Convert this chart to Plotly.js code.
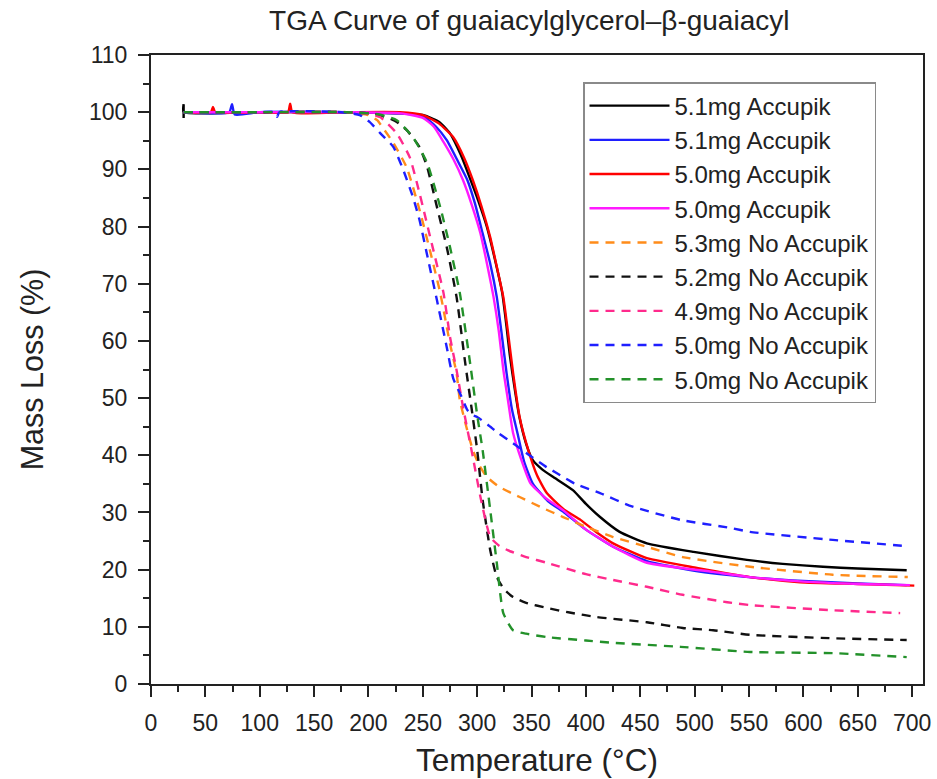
<!DOCTYPE html>
<html>
<head>
<meta charset="utf-8">
<script src="https://cdn.plot.ly/plotly-3.0.1.min.js"></script>
<style>html,body{margin:0;padding:0;background:#fff;}#chart{width:937px;height:779px;}</style>
</head>
<body>
<div id="chart"></div>
<script>
// Legend labels
const names = ['5.1mg Accupik','5.1mg Accupik','5.0mg Accupik','5.0mg Accupik',
  '5.3mg No Accupik','5.2mg No Accupik','4.9mg No Accupik','5.0mg No Accupik','5.0mg No Accupik'];

// Series 1: 5.1mg Accupik (black, solid)
const t1 = [30,30,30,100,180,230,250,265,275,285,293,301,309,316,323,327,330,335,339,345,351,360,370,388,400,413,431,456,499,548,581,618,650,695];
const m1 = [99,101.4,100,100,100,99.8,99.5,98.3,96.3,92.5,88.6,84.5,79.9,74.5,68.4,62.5,57.5,51,46.5,42,39.2,37.5,36.2,33.9,31.5,29.2,26.6,24.6,23.1,21.7,21,20.5,20.2,19.9];
// Series 2: 5.1mg Accupik (blue, solid)
const t2 = [30,72,74.5,77,100,180,230,250,262,272,282,291,298,305,312,318,322,327,332,337,343,351,365,380,400,425,456,500,550,600,650,695];
const m2 = [100,100,101.4,99.6,100,100,99.8,99.3,97.5,95.1,91.5,88.1,84,78.8,73.5,67.7,62,54.4,48,43.9,39,35.1,32,30,27,24,21.5,19.8,18.7,18,17.6,17.3];
// Series 3: 5.0mg Accupik (red, solid)
const t3 = [30,55,57,59,100,126,128,130,180,229,250,265,278,288,296,304,312,318,324,328,333,339,347,355,364,380,395,410,425,456,502,551,597,650,702];
const m3 = [100,100,100.9,100,100,100,101.5,100,100,100,99.5,98,95.6,92,88.1,83.5,78.1,73,67.7,62,54.4,46.7,40.9,36.5,33.4,30.5,28.7,26.5,24.6,22,20.3,18.7,17.8,17.5,17.2];
// Series 4: 5.0mg Accupik (magenta, solid)
const t4 = [30,100,180,230,250,260,269,278,287,295,303,309,315,320,324,328,333,341,349,363,379,400,425,456,517,551,600,650,698];
const m4 = [100,100,100,99.8,99,97.5,94.8,91.8,88.1,83.8,78.8,73.5,67.7,61.5,55,50,43.9,39,35.1,32.5,30.4,27,24,21.2,19.6,18.7,17.9,17.5,17.3];
// Series 5: 5.3mg No Accupik (orange, dashed)
const t5 = [30,100,180,200,208,215,223,235,247,258,266,275,281,284,290,296,302,309,320,339,360,379,400,425,456,489,551,627,696];
const m5 = [100,100,100,99.5,98.6,96.8,94.6,90.4,82.9,74.7,68.4,59.5,54.4,49.7,45,40.9,38.2,36.2,34.5,32.7,30.8,29.2,27.5,25.7,24,22.2,20.5,19.1,18.7];
// Series 6: 5.2mg No Accupik (black, dashed)
const t6 = [30,100,180,205,217,226,235,247,254,263,272,281,289,295,300,305,312,318,325,333,345,364,385,410,456,489,517,551,627,695];
const m6 = [100,100,100,99.7,99.1,98.3,96.9,93.9,90.4,83.4,76.4,67.7,56.1,48,40.9,32.2,23.4,18.7,16.5,15.2,14.2,13.3,12.5,11.7,10.8,9.8,9.4,8.6,8,7.7];
// Series 7: 4.9mg No Accupik (pink, dashed)
const t7 = [30,100,180,200,211,226,238,247,259,269,275,281,287,296,303,312,320,328,345,364,400,425,456,489,530,551,627,689];
const m7 = [100,100,100,99.7,99.1,96.3,92.1,85.8,76.4,68.4,60.7,54.9,48.4,39.7,32.7,25.7,24.2,23.4,22.2,21.2,19.2,18.2,17,15.6,14.3,13.8,12.9,12.4];
// Series 8: 5.0mg No Accupik (blue, dashed)
const t8 = [30,100,114,116,118,175,192,201,211,223,232,241,247,255,263,272,278,285,291,296,300,310,320,333,348,364,373,390,413,440,487,533,551,627,696];
const m8 = [100,100,100,99.2,100,100,99.5,98.3,96.3,93.9,89.9,85.1,81.1,74.1,67.1,58.9,53.4,50.5,47.9,47,46.7,45.3,43.8,42.1,40,37.9,36.9,35,33.4,31.2,28.7,27.3,26.6,25.2,24.1];
// Series 9: 5.0mg No Accupik (green, dashed)
const t9 = [30,100,180,210,226,241,254,266,275,284,294,300,305,312,318,324,333,345,364,400,425,487,551,627,695];
const m9 = [100,100,100,99.6,98.6,95.6,91.1,83.4,76.4,68.4,55.4,47,40.9,30.4,21.2,12.4,9.4,8.8,8.2,7.6,7.2,6.5,5.6,5.4,4.7];

const xs = [t1,t2,t3,t4,t5,t6,t7,t8,t9];
const ys = [m1,m2,m3,m4,m5,m6,m7,m8,m9];
const colors = ['#000000','#1f1fff','#ff0000','#ff1aff','#ff8c1a','#111111','#ff2a8c','#1f1fff','#23912a'];
const dashes = ['solid','solid','solid','solid','9px,7px','9px,7px','9px,7px','9px,7px','9px,7px'];

const FONT = 'Liberation Sans, Arial, sans-serif';
const traces = xs.map((x,i)=>({
  type:'scatter', mode:'lines', x:x, y:ys[i], name:names[i],
  line:{color:colors[i], width:2.4, dash:dashes[i], shape:'spline', smoothing:0.5}
}));

const axisBase = {
  showgrid:false, zeroline:false, color:'#000',
  tickfont:{family:FONT, size:23, color:'#222'},
};
const layout = {
  width:937, height:779,
  margin:{l:151, r:14, t:55, b:95},
  paper_bgcolor:'#fff', plot_bgcolor:'#fff',
  font:{family:FONT, color:'#222'},
  title:{text:'TGA Curve of guaiacylglycerol\u2013\u03b2-guaiacyl', font:{family:FONT, size:28, color:'#222'},
    xref:'paper', x:0.49, xanchor:'center', yref:'container', y:0.974, yanchor:'middle'},
  xaxis:Object.assign({}, axisBase, {
    range:[0,710], tick0:0, dtick:50, ticks:'outside', ticklen:11, tickwidth:2, tickcolor:'#222',
    showline:true, linecolor:'#222', linewidth:2, mirror:true,
    minor:{ticks:'outside', dtick:25, tick0:0, ticklen:6, tickwidth:2, tickcolor:'#222'},
    ticklabelstandoff:6,
    title:{text:'Temperature (°C)', font:{family:FONT, size:31.5, color:'#222'}, standoff:14}
  }),
  yaxis:Object.assign({}, axisBase, {
    range:[0,110], tick0:0, dtick:10, ticks:'outside', ticklen:11, tickwidth:2, tickcolor:'#222',
    showline:true, linecolor:'#222', linewidth:2, mirror:true,
    minor:{ticks:'outside', dtick:5, tick0:0, ticklen:6, tickwidth:2, tickcolor:'#222'},
    ticklabelstandoff:6,
    title:{text:'Mass Loss (%)', font:{family:FONT, size:30.5, color:'#222'}, standoff:36}
  }),
  xaxis2:{overlaying:'x', side:'top', anchor:'y', range:[0,710], tick0:0, dtick:50,
    ticks:'inside', ticklen:11, tickwidth:2, tickcolor:'#222', showticklabels:false,
    showgrid:false, zeroline:false, showline:false,
    minor:{ticks:'inside', dtick:25, tick0:0, ticklen:6, tickwidth:2, tickcolor:'#222'}},
  yaxis2:{overlaying:'y', side:'right', anchor:'x', range:[0,110], tick0:0, dtick:10,
    ticks:'inside', ticklen:11, tickwidth:2, tickcolor:'#222', showticklabels:false,
    showgrid:false, zeroline:false, showline:false,
    minor:{ticks:'inside', dtick:5, tick0:0, ticklen:6, tickwidth:2, tickcolor:'#222'}},
  legend:{x:0.5596, y:0.957, xanchor:'left', yanchor:'top',
    bgcolor:'#fff', bordercolor:'#8a8a8a', borderwidth:1.5,
    font:{family:FONT, size:24, color:'#222'}, itemwidth:80, tracegroupgap:0,
    entrywidth:315, entrywidthmode:'pixels'},
  showlegend:true
};

Plotly.newPlot('chart', traces, layout, {staticPlot:true, displayModeBar:false});
</script>
</body>
</html>
